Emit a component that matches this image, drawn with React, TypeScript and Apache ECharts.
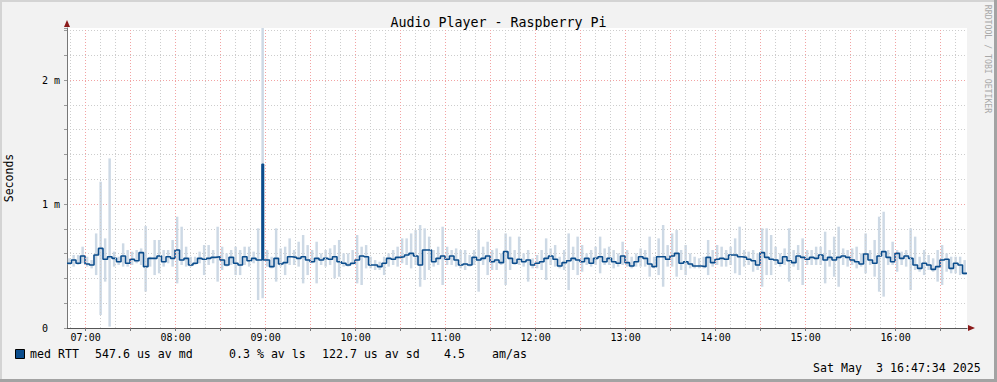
import React, { useEffect, useRef } from "react";
import * as echarts from "echarts";

// ---- time range (minutes since midnight) ----
const START_MIN = 6 * 60 + 47 + 34 / 60; // 06:47:34
const END_MIN = START_MIN + 600; // 16:47:34
const STEP_MIN = 3;
const Y_MAX_MS = 2.42;

// ---- data (milliseconds), one value per 3-minute step ----
const medianMs = [
  0.522, 0.548, 0.522, 0.581, 0.516, 0.508, 0.589, 0.642, 0.554, 0.575,
  0.562, 0.535, 0.581, 0.522, 0.554, 0.543, 0.608, 0.495, 0.562, 0.562,
  0.581, 0.535, 0.575, 0.562, 0.629, 0.548, 0.562, 0.508, 0.522, 0.562,
  0.554, 0.562, 0.570, 0.575, 0.548, 0.508, 0.570, 0.522, 0.508, 0.575,
  0.543, 0.562, 0.548, 1.320, 0.548, 0.495, 0.562, 0.516, 0.527, 0.575,
  0.570, 0.562, 0.575, 0.548, 0.535, 0.562, 0.548, 0.562, 0.554, 0.575,
  0.535, 0.522, 0.508, 0.522, 0.548, 0.581, 0.575, 0.508, 0.508, 0.495,
  0.522, 0.562, 0.554, 0.570, 0.575, 0.589, 0.602, 0.581, 0.508, 0.629,
  0.629, 0.535, 0.562, 0.581, 0.554, 0.581, 0.548, 0.508, 0.516, 0.508,
  0.570, 0.548, 0.562, 0.581, 0.535, 0.548, 0.527, 0.616, 0.562, 0.522,
  0.554, 0.535, 0.548, 0.508, 0.522, 0.535, 0.562, 0.581, 0.554, 0.500,
  0.527, 0.543, 0.562, 0.548, 0.535, 0.562, 0.522, 0.562, 0.575, 0.535,
  0.562, 0.535, 0.522, 0.581, 0.527, 0.500, 0.535, 0.575, 0.562, 0.516,
  0.495, 0.575, 0.575, 0.554, 0.581, 0.602, 0.522, 0.535, 0.516, 0.500,
  0.500, 0.495, 0.570, 0.527, 0.554, 0.562, 0.554, 0.589, 0.589, 0.575,
  0.570, 0.554, 0.543, 0.508, 0.608, 0.570, 0.554, 0.548, 0.522, 0.575,
  0.543, 0.527, 0.581, 0.570, 0.554, 0.570, 0.562, 0.589, 0.548, 0.570,
  0.548, 0.570, 0.581, 0.570, 0.548, 0.535, 0.516, 0.597, 0.548, 0.522,
  0.581, 0.616, 0.570, 0.535, 0.602, 0.562, 0.581, 0.562, 0.508, 0.481,
  0.522, 0.508, 0.473, 0.495, 0.548, 0.554, 0.481, 0.522, 0.508, 0.441,
];

// the 09:00 spike lasted about one minute: its 3-minute step, minute by minute
const spikeStepIndex = 43;
const spikeStepMinuteMs = [0.548, 1.32, 0.548];

const smokeHighMs = [
  0.562, 0.589, 0.589, 0.656, 0.575, 0.548, 0.763, 1.180, 0.723, 1.368,
  0.616, 0.575, 0.683, 0.629, 0.616, 0.629, 0.642, 0.822, 0.575, 0.710,
  0.710, 0.629, 0.629, 0.710, 0.898, 0.817, 0.656, 0.575, 0.575, 0.616,
  0.669, 0.669, 0.629, 0.817, 0.656, 0.602, 0.629, 0.656, 0.629, 0.656,
  0.656, 0.616, 0.804, 2.600, 0.629, 0.575, 0.804, 0.642, 0.656, 0.723,
  0.629, 0.696, 0.750, 0.669, 0.629, 0.696, 0.602, 0.629, 0.642, 0.669,
  0.710, 0.602, 0.602, 0.629, 0.750, 0.656, 0.669, 0.575, 0.548, 0.535,
  0.575, 0.602, 0.629, 0.656, 0.723, 0.723, 0.763, 0.790, 0.831, 0.804,
  0.737, 0.629, 0.656, 0.817, 0.656, 0.629, 0.642, 0.629, 0.629, 0.589,
  0.629, 0.790, 0.656, 0.696, 0.629, 0.642, 0.602, 0.763, 0.737, 0.629,
  0.737, 0.602, 0.629, 0.562, 0.589, 0.629, 0.723, 0.642, 0.669, 0.575,
  0.629, 0.763, 0.656, 0.737, 0.669, 0.602, 0.629, 0.656, 0.737, 0.642,
  0.656, 0.629, 0.602, 0.696, 0.629, 0.575, 0.602, 0.642, 0.629, 0.737,
  0.575, 0.723, 0.831, 0.669, 0.763, 0.790, 0.629, 0.669, 0.602, 0.575,
  0.562, 0.575, 0.710, 0.629, 0.669, 0.656, 0.629, 0.656, 0.723, 0.817,
  0.629, 0.616, 0.629, 0.602, 0.804, 0.804, 0.750, 0.656, 0.602, 0.642,
  0.804, 0.629, 0.669, 0.723, 0.629, 0.629, 0.656, 0.656, 0.777, 0.629,
  0.737, 0.817, 0.642, 0.629, 0.642, 0.656, 0.602, 0.763, 0.629, 0.710,
  0.898, 0.938, 0.629, 0.696, 0.629, 0.616, 0.629, 0.804, 0.737, 0.575,
  0.629, 0.589, 0.562, 0.629, 0.669, 0.602, 0.575, 0.575, 0.575, 0.548,
];

const smokeLowMs = [
  0.508, 0.495, 0.508, 0.522, 0.495, 0.481, 0.427, 0.105, 0.374, 0.011,
  0.495, 0.508, 0.495, 0.495, 0.508, 0.522, 0.508, 0.293, 0.495, 0.427,
  0.441, 0.495, 0.522, 0.495, 0.360, 0.508, 0.495, 0.495, 0.508, 0.522,
  0.427, 0.508, 0.522, 0.374, 0.468, 0.495, 0.508, 0.427, 0.427, 0.508,
  0.495, 0.522, 0.226, 0.240, 0.495, 0.481, 0.374, 0.495, 0.427, 0.508,
  0.508, 0.495, 0.360, 0.427, 0.522, 0.360, 0.508, 0.495, 0.508, 0.401,
  0.414, 0.495, 0.495, 0.508, 0.360, 0.347, 0.481, 0.481, 0.468, 0.468,
  0.427, 0.495, 0.508, 0.495, 0.522, 0.508, 0.481, 0.508, 0.333, 0.387,
  0.468, 0.495, 0.508, 0.347, 0.508, 0.508, 0.495, 0.481, 0.468, 0.495,
  0.508, 0.293, 0.508, 0.427, 0.468, 0.468, 0.508, 0.347, 0.468, 0.508,
  0.508, 0.495, 0.374, 0.481, 0.481, 0.468, 0.387, 0.508, 0.495, 0.481,
  0.468, 0.306, 0.468, 0.427, 0.454, 0.508, 0.495, 0.508, 0.441, 0.508,
  0.508, 0.481, 0.495, 0.508, 0.495, 0.481, 0.495, 0.495, 0.495, 0.414,
  0.481, 0.427, 0.333, 0.495, 0.495, 0.414, 0.468, 0.427, 0.481, 0.481,
  0.481, 0.481, 0.427, 0.495, 0.508, 0.495, 0.495, 0.508, 0.441, 0.427,
  0.495, 0.508, 0.454, 0.468, 0.333, 0.427, 0.427, 0.508, 0.495, 0.508,
  0.374, 0.495, 0.468, 0.347, 0.508, 0.508, 0.508, 0.508, 0.360, 0.495,
  0.414, 0.333, 0.508, 0.495, 0.508, 0.481, 0.495, 0.441, 0.508, 0.414,
  0.293, 0.253, 0.508, 0.508, 0.454, 0.508, 0.495, 0.306, 0.468, 0.454,
  0.427, 0.468, 0.454, 0.374, 0.347, 0.454, 0.441, 0.441, 0.427, 0.427,
];

// ---- axis ticks / grid positions (minutes since midnight) ----
const hourTicks = [420, 480, 540, 600, 660, 720, 780, 840, 900, 960];
const halfHourLines = [420, 450, 480, 510, 540, 570, 600, 630, 660, 690, 720, 750, 780, 810, 840, 870, 900, 930, 960, 990];
const tenMinLines = [
  410, 420, 430, 440, 450, 460, 470, 480, 490, 500, 510, 520, 530, 540, 550, 560, 570, 580, 590, 600,
  610, 620, 630, 640, 650, 660, 670, 680, 690, 700, 710, 720, 730, 740, 750, 760, 770, 780, 790, 800,
  810, 820, 830, 840, 850, 860, 870, 880, 890, 900, 910, 920, 930, 940, 950, 960, 970, 980, 990, 1000,
];

// ---- texts ----
const TITLE = "Audio Player - Raspberry Pi";
const Y_NAME = "Seconds";
const SIDE_TEXT = "RRDTOOL / TOBI OETIKER";
const legendPieces = [
  { text: "med RTT", x: 30 },
  { text: "547.6 us av md", x: 95 },
  { text: "0.3 % av ls", x: 229 },
  { text: "122.7 us av sd", x: 322 },
  { text: "4.5", x: 444 },
  { text: "am/as", x: 492 },
];
const datePieces = [
  { text: "Sat May", x: 813 },
  { text: "3 16:47:34 2025", x: 876 },
];

const MONO = "'DejaVu Sans Mono', monospace";
const MEDIAN_COLOR = "#0a4c8c";
const SMOKE_COLOR = "#cdd9e5";
const GRID_GRAY = "#cdcdcd";
const GRID_RED = "#f2a3a3";

const pad = (n: number) => (n < 10 ? "0" + n : "" + n);

export default function App() {
  const ref = useRef<HTMLDivElement>(null);

  useEffect(() => {
    document.body.style.margin = "0";
    if (!ref.current) return;
    const chart = echarts.init(ref.current, null, { renderer: "svg" });

    const sampleTimes = medianMs.map((_, i) => START_MIN + i * STEP_MIN);
    const medianData: number[][] = [];
    medianMs.forEach((v, i) => {
      if (i === spikeStepIndex) {
        spikeStepMinuteMs.forEach((mv, k) => medianData.push([sampleTimes[i] + k, mv]));
      } else {
        medianData.push([sampleTimes[i], v]);
      }
    });
    medianData.push([END_MIN, medianMs[medianMs.length - 1]]);
    const smokeData = smokeLowMs.map((lo, i) => [sampleTimes[i], lo, smokeHighMs[i]]);

    const option: any = {
      animation: false,
      backgroundColor: "#f2f2f2",
      title: {
        text: TITLE,
        left: "center",
        top: 11,
        textStyle: { fontFamily: MONO, fontSize: 13.3, fontWeight: "normal", color: "#000" },
      },
      grid: {
        left: 67,
        right: 30,
        top: 28,
        bottom: 54,
        show: true,
        backgroundColor: "#ffffff",
        borderWidth: 0,
        outerBoundsMode: "none",
      },
      xAxis: {
        type: "value",
        min: START_MIN,
        max: END_MIN,
        axisLine: { show: true, lineStyle: { color: "#555", width: 1 } },
        axisTick: { show: true, customValues: halfHourLines, length: 3, lineStyle: { color: "#777" } },
        axisLabel: {
          customValues: hourTicks,
          fontFamily: MONO,
          fontSize: 10,
          color: "#000",
          margin: 4,
          formatter: (v: number) => pad(Math.floor(v / 60)) + ":" + pad(Math.round(v % 60)),
        },
        splitLine: { show: false },
      },
      yAxis: [
        {
          type: "value",
          min: 0,
          max: Y_MAX_MS,
          interval: 0.2,
          name: Y_NAME,
          nameLocation: "middle",
          nameGap: 52,
          nameRotate: 90,
          nameTextStyle: { fontFamily: MONO, fontSize: 11.5, color: "#000" },
          axisLine: { show: true, lineStyle: { color: "#777", width: 1 } },
          axisTick: { show: true, length: 3, lineStyle: { color: "#999" } },
          axisLabel: {
            fontFamily: MONO,
            fontSize: 10,
            color: "#000",
            align: "left",
            margin: 25,
            formatter: (v: number) => {
              if (Math.abs(v) < 1e-6) return "0";
              const r = Math.round(v);
              if (Math.abs(v - r) < 1e-6) return r + " m";
              return "";
            },
          },
          splitLine: {
            show: true,
            showMinLine: false,
            showMaxLine: false,
            lineStyle: { color: GRID_GRAY, type: [1, 2], width: 1 },
          },
        },
        {
          type: "value",
          min: 0,
          max: Y_MAX_MS,
          interval: 1,
          position: "left",
          axisLine: { show: false },
          axisTick: { show: false },
          axisLabel: { show: false },
          splitLine: {
            show: true,
            showMinLine: false,
            showMaxLine: false,
            lineStyle: { color: GRID_RED, type: [1, 2], width: 1 },
          },
        },
      ],
      series: [
        {
          type: "line",
          data: [],
          z: 1,
          silent: true,
          markLine: {
            silent: true,
            animation: false,
            symbol: ["none", "none"],
            label: { show: false },
            lineStyle: { color: GRID_GRAY, type: [1, 2], width: 1 },
            data: tenMinLines.map((x) => ({ xAxis: x })),
          },
        },
        {
          type: "line",
          data: [],
          z: 1,
          silent: true,
          markLine: {
            silent: true,
            animation: false,
            symbol: ["none", "none"],
            label: { show: false },
            lineStyle: { color: GRID_RED, type: [1, 2], width: 1 },
            data: halfHourLines.map((x) => ({ xAxis: x })),
          },
        },
        {
          type: "custom",
          z: 2,
          silent: true,
          clip: true,
          encode: { x: 0, y: [1, 2] },
          data: smokeData,
          renderItem: (params: any, api: any) => {
            const t = api.value(0);
            const lo = api.value(1);
            const hi = Math.min(api.value(2), Y_MAX_MS);
            const p1 = api.coord([t + STEP_MIN * 0.2, hi]);
            const p2 = api.coord([t + STEP_MIN * 0.75, lo]);
            return {
              type: "rect",
              shape: { x: p1[0], y: p1[1], width: p2[0] - p1[0], height: p2[1] - p1[1] },
              style: { fill: SMOKE_COLOR },
            };
          },
        },
        {
          type: "line",
          z: 3,
          step: "end",
          showSymbol: false,
          silent: true,
          data: medianData,
          lineStyle: { color: MEDIAN_COLOR, width: 1.6 },
        },
      ],
      graphic: [
        // frame
        { type: "rect", shape: { x: 0, y: 0, width: 997, height: 2 }, style: { fill: "#d4d4d4" }, silent: true },
        { type: "rect", shape: { x: 0, y: 0, width: 2, height: 382 }, style: { fill: "#d4d4d4" }, silent: true },
        { type: "rect", shape: { x: 994, y: 0, width: 3, height: 382 }, style: { fill: "#a3a3a3" }, silent: true },
        { type: "rect", shape: { x: 0, y: 379, width: 997, height: 3 }, style: { fill: "#a3a3a3" }, silent: true },
        // axis arrows
        { type: "polygon", shape: { points: [[64, 27], [70, 27], [67, 20]] }, style: { fill: "#8b1a1a" }, silent: true },
        { type: "polygon", shape: { points: [[968, 325], [968, 331], [975, 328]] }, style: { fill: "#8b1a1a" }, silent: true },
        // side text
        {
          type: "text",
          x: 988,
          y: 59,
          rotation: -Math.PI / 2,
          silent: true,
          style: {
            text: SIDE_TEXT,
            fontFamily: MONO,
            fontSize: 8.2,
            fill: "#a8a8a8",
            align: "center",
            verticalAlign: "middle",
          },
        },
        // legend swatch
        {
          type: "rect",
          shape: { x: 15.5, y: 349.5, width: 9, height: 9 },
          style: { fill: MEDIAN_COLOR, stroke: "#000", lineWidth: 1 },
          silent: true,
        },
        ...legendPieces.map((p) => ({
          type: "text",
          x: p.x,
          y: 354,
          silent: true,
          style: { text: p.text, fontFamily: MONO, fontSize: 11.6, fill: "#000", align: "left", verticalAlign: "middle" },
        })),
        ...datePieces.map((p) => ({
          type: "text",
          x: p.x,
          y: 368,
          silent: true,
          style: { text: p.text, fontFamily: MONO, fontSize: 11.6, fill: "#000", align: "left", verticalAlign: "middle" },
        })),
      ],
    };

    chart.setOption(option);
    return () => chart.dispose();
  }, []);

  return <div ref={ref} style={{ width: 997, height: 382 }} />;
}
